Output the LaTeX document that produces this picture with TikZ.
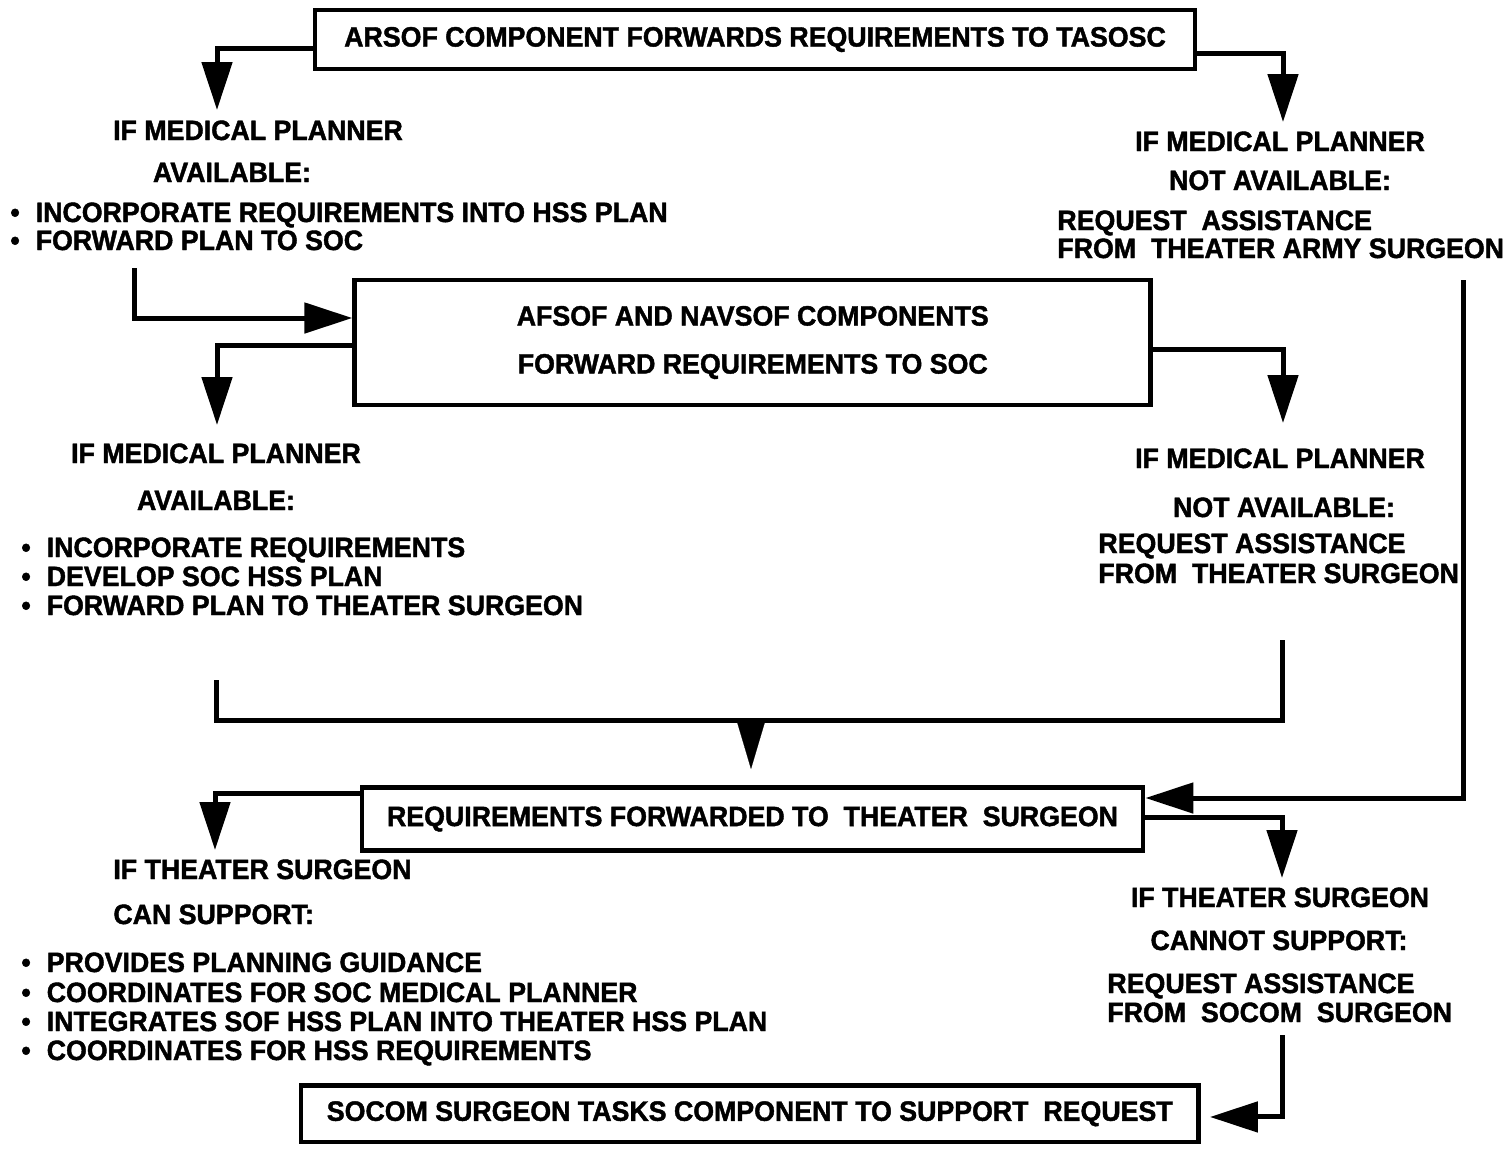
\documentclass[tikz,border=0pt]{standalone}
\usepackage{fontspec}
\setmainfont{Liberation Sans}[FakeStretch=0.955, BoldFeatures={FakeBold=1.5}]
\usetikzlibrary{arrows.meta}
\begin{document}
\begin{tikzpicture}[x=0.5pt,y=-0.5pt,
  lbl/.style={inner sep=0pt, text height=10pt, text depth=0pt, font=\fontsize{14}{16}\selectfont\bfseries},
  box/.style={draw, line width=2.4pt, inner sep=0pt, align=center, font=\fontsize{14}{16}\selectfont\bfseries},
  conn/.style={line width=2.5pt, -{Triangle[length=24pt,width=15pt]}},
  plain/.style={line width=2.5pt},
  bigtip/.style={line width=0.1pt, -{Triangle[length=24.5pt,width=14.5pt]}}
]
\fill[white] (0,0) rectangle (1510,1148);
\useasboundingbox (0,0) rectangle (1510,1148);

% boxes
\node[box, minimum width=440pt, minimum height=29.5pt] (b1) at (755,39.5) {ARSOF COMPONENT FORWARDS REQUIREMENTS TO TASOSC};
\node[box, minimum width=398pt, minimum height=62.5pt] (b2) at (752.75,342.5) {AFSOF AND NAVSOF COMPONENTS\\[8pt]FORWARD REQUIREMENTS TO SOC};
\node[box, minimum width=390.5pt, minimum height=31.5pt] (b3) at (752.5,819) {REQUIREMENTS FORWARDED TO\ \ THEATER\ \ SURGEON};
\node[box, minimum width=448.75pt, minimum height=28.25pt] (b4) at (749.75,1113.75) {SOCOM SURGEON TASKS COMPONENT TO SUPPORT\ \ REQUEST};

% group 1 left
\node[lbl] (t1a) at (258,130) {IF MEDICAL PLANNER};
\node[lbl] (t1b) at (232,172) {AVAILABLE:};
\node[lbl, anchor=west] (t1c) at (10,212) {\textbullet\hspace{8pt}INCORPORATE REQUIREMENTS INTO HSS PLAN};
\node[lbl, anchor=west] (t1d) at (10,240) {\textbullet\hspace{8pt}FORWARD PLAN TO SOC};
% group 1 right
\node[lbl] (r1a) at (1280,141) {IF MEDICAL PLANNER};
\node[lbl] (r1b) at (1280,180) {NOT AVAILABLE:};
\node[lbl, anchor=west] (r1c) at (1057,220) {REQUEST\ \ ASSISTANCE};
\node[lbl, anchor=west] (r1d) at (1057,248) {FROM\ \ THEATER ARMY SURGEON};

% group 2 left
\node[lbl] (t2a) at (216,453) {IF MEDICAL PLANNER};
\node[lbl] (t2b) at (216,500) {AVAILABLE:};
\node[lbl, anchor=west] (t2c) at (21,547) {\textbullet\hspace{8pt}INCORPORATE REQUIREMENTS};
\node[lbl, anchor=west] (t2d) at (21,576) {\textbullet\hspace{8pt}DEVELOP SOC HSS PLAN};
\node[lbl, anchor=west] (t2e) at (21,605) {\textbullet\hspace{8pt}FORWARD PLAN TO THEATER SURGEON};
% group 2 right
\node[lbl] (r2a) at (1280,458) {IF MEDICAL PLANNER};
\node[lbl] (r2b) at (1284,507) {NOT AVAILABLE:};
\node[lbl, anchor=west] (r2c) at (1098,543) {REQUEST ASSISTANCE};
\node[lbl, anchor=west] (r2d) at (1098,573) {FROM\ \ THEATER SURGEON};

% group 3 left
\node[lbl, anchor=west] (t3a) at (113,869) {IF THEATER SURGEON};
\node[lbl, anchor=west] (t3b) at (113,914) {CAN SUPPORT:};
\node[lbl, anchor=west] (t3c) at (21,962) {\textbullet\hspace{8pt}PROVIDES PLANNING GUIDANCE};
\node[lbl, anchor=west] (t3d) at (21,992) {\textbullet\hspace{8pt}COORDINATES FOR SOC MEDICAL PLANNER};
\node[lbl, anchor=west] (t3e) at (21,1021) {\textbullet\hspace{8pt}INTEGRATES SOF HSS PLAN INTO THEATER HSS PLAN};
\node[lbl, anchor=west] (t3f) at (21,1050) {\textbullet\hspace{8pt}COORDINATES FOR HSS REQUIREMENTS};
% group 3 right
\node[lbl] (r3a) at (1280,897) {IF THEATER SURGEON};
\node[lbl] (r3b) at (1279,940) {CANNOT SUPPORT:};
\node[lbl, anchor=west] (r3c) at (1107,983) {REQUEST ASSISTANCE};
\node[lbl, anchor=west] (r3d) at (1107,1012) {FROM\ \ SOCOM\ \ SURGEON};

% coordinates
\coordinate (a1) at (217,110);
\coordinate (a2) at (1283,122);
\coordinate (s3) at (134,268);
\coordinate (a4) at (217,425);
\coordinate (a5) at (1283,423);
\coordinate (m1) at (216,680);
\coordinate (mc) at (751,720);
\coordinate (m2) at (1282,640);
\coordinate (mt) at (751,769);
\coordinate (s6) at (1463,280);
\coordinate (a7) at (1282,878);
\coordinate (a8) at (215,850);
\coordinate (s9) at (1282,1035);

% connectors
\draw[conn] ([yshift=-4.25pt]b1.west) -| (a1);
\draw[conn] ([yshift=-6.75pt]b1.east) -| (a2);
\draw[conn] (s3) |- ([yshift=12.25pt]b2.west);
\draw[conn] ([yshift=-1.25pt]b2.west) -| (a4);
\draw[conn] ([yshift=-3.25pt]b2.east) -| (a5);
\draw[plain] (m1) |- (mc) -| (m2);
\draw[bigtip] (mc) -- (mt);
\draw[conn] (s6) |- ([yshift=10.5pt]b3.east);
\draw[conn] ([yshift=1pt]b3.east) -| (a7);
\draw[conn] ([yshift=13pt]b3.west) -| (a8);
\draw[conn, shorten >=4.5pt] (s9) |- ([yshift=-1.6pt]b4.east);
\end{tikzpicture}
\end{document}
